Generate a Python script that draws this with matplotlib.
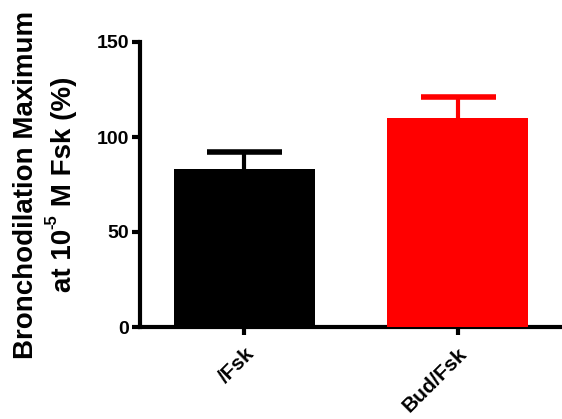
import matplotlib
matplotlib.use('Agg')
import matplotlib.pyplot as plt
from matplotlib.transforms import IdentityTransform
import numpy as np

plt.rcParams['font.family'] = ['Liberation Sans', 'DejaVu Sans']
plt.rcParams['font.weight'] = 'bold'

# data
groups = ['/Fsk', 'Bud/Fsk']
means = [83.3, 109.8]
sem = [8.6, 11.4]
colors = ['black', 'red']
yticks = [0, 50, 100, 150]

fig = plt.figure(figsize=(5.62, 4.19), dpi=100)
ax = fig.add_axes([140 / 562, 1 - 327 / 419, 1 - 140 / 562, (327 - 42) / 419])

x = np.arange(len(groups))
# bars drawn over the error bars so only the upper half shows
ax.bar(x, means, width=0.664, color=colors, zorder=3)
for xi, m, e, c in zip(x, means, sem, colors):
    ax.errorbar(xi, m, yerr=e, color=c, elinewidth=3, capsize=27,
                capthick=4, zorder=2)

ax.set_xlim(-0.49, 1.49)
ax.set_ylim(0, 150)
ax.set_yticks(yticks)
ax.set_xticks(x)
ax.set_xticklabels(groups, rotation=45, ha='right', rotation_mode='anchor',
                   fontsize=15, fontweight='bold')
ax.tick_params(axis='both', width=3, length=6)
ax.tick_params(axis='y', labelsize=14, pad=2)
ax.tick_params(axis='x', pad=6)
for lab in ax.get_yticklabels():
    lab.set_fontweight('bold')

ax.spines['top'].set_visible(False)
ax.spines['right'].set_visible(False)
ax.spines['left'].set_linewidth(3)
ax.spines['bottom'].set_linewidth(3)

# y label: two rotated lines, second one with a superscript, built in pixels
fs = 20
mid = 419 - 184.5
px = IdentityTransform()
fig.text(33, mid, 'Bronchodilation Maximum', transform=px, rotation=90,
         rotation_mode='anchor', ha='center', va='baseline', fontsize=fs,
         fontweight='bold')

pieces = [('at 10', fs, 0), ('-5', 12, -15), (' M Fsk (%)', fs, 0)]
renderer = fig.canvas.get_renderer()
texts = []
for s, size, shift in pieces:
    t = fig.text(71 + shift, 0, s, transform=px, rotation=90,
                 rotation_mode='anchor', ha='left', va='baseline',
                 fontsize=size, fontweight='bold')
    texts.append(t)
lengths = [t.get_window_extent(renderer).height for t in texts]
pos = mid - sum(lengths) / 2
for t, ln in zip(texts, lengths):
    t.set_y(pos)
    pos += ln

plt.savefig('out.png', dpi=100)
